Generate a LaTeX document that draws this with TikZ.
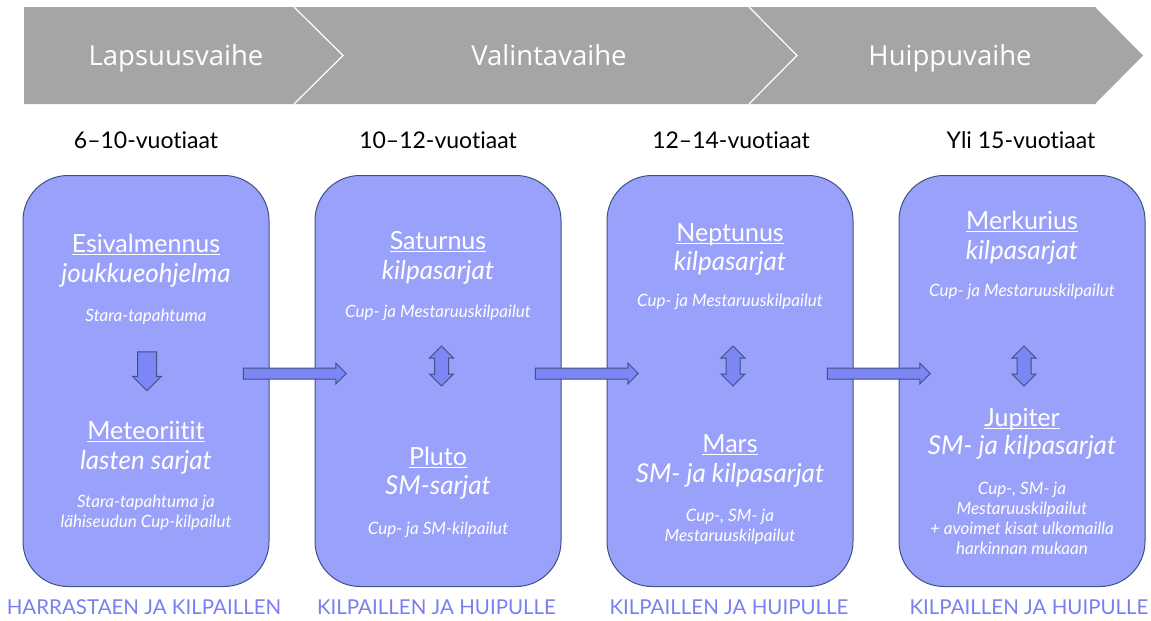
\documentclass[tikz,border=0pt]{standalone}
\usepackage{fontspec}
\setmainfont{Lato}[Ligatures=NoCommon]
\newfontfamily\chevfont{Open Sans}
\usepackage{tikz}
\usetikzlibrary{shapes.arrows,calc}
\definecolor{chevgray}{RGB}{165,165,165}
\definecolor{boxfill}{RGB}{154,161,250}
\definecolor{arrowfill}{RGB}{124,134,244}
\definecolor{edgeblue}{RGB}{62,82,130}
\definecolor{mottoblue}{RGB}{122,126,240}
\newcommand{\planetul}[1]{\setbox0=\hbox{#1}\rlap{\rule[-0.12em]{\wd0}{0.06em}}\box0}

\begin{document}
\begin{tikzpicture}[x=1pt,y=-1pt,
  stage/.style={draw=edgeblue, line width=1pt, fill=boxfill, rounded corners=45pt, minimum width=246pt, minimum height=411pt, inner sep=0pt},
  phase/.style={anchor=base, font=\chevfont\fontsize{27.5}{32}\selectfont, text=white},
  agelabel/.style={anchor=base, font=\fontsize{23}{27}\selectfont, text=black},
  motto/.style={anchor=base, font=\fontsize{20.5}{24}\selectfont, text=mottoblue},
  planet/.style={anchor=base, font=\fontsize{25}{30}\selectfont, text=white},
  series/.style={anchor=base, font=\fontsize{26}{30}\selectfont\itshape, text=white},
  contests/.style={font=\fontsize{17}{20}\selectfont\itshape, text=white, align=center},
  flowarrow/.style={single arrow, draw=edgeblue, fill=arrowfill, line width=1pt, single arrow head extend=5pt, minimum height=103pt, minimum width=20pt, inner sep=5pt},
  updown/.style={double arrow, draw=edgeblue, fill=arrowfill, line width=1pt, double arrow head extend=5pt, minimum height=40pt, minimum width=23pt, inner sep=6.5pt, shape border rotate=90}]
\useasboundingbox (0,0) rectangle (1151,621);

% phases
\fill[chevgray] (24,7) -- (1095,7) -- (1143,55.5) -- (1095,104) -- (24,104) -- cycle;
\draw[white, line width=1.2pt] (294,7) -- (343,55.5) -- (294,104);
\draw[white, line width=1.2pt] (749,7) -- (797,55.5) -- (749,104);
\node[phase] (lapsuus) at (176,65) {Lapsuusvaihe};
\node[phase] (valinta) at (549,65) {Valintavaihe};
\node[phase] (huippu) at (950,65) {Huippuvaihe};

% ages
\node[agelabel] (age1) at (146,148) {6–10-vuotiaat};
\node[agelabel] (age2) at (438,148) {10–12-vuotiaat};
\node[agelabel] (age3) at (731,148) {12–14-vuotiaat};
\node[agelabel] (age4) at (1021,148) {Yli 15-vuotiaat};

% stages
\node[stage] (box1) at (146,381) {};
\node[stage] (box2) at (438,381) {};
\node[stage] (box3) at (730,381) {};
\node[stage] (box4) at (1022,381) {};

\node[flowarrow, yshift=7.5pt] (flow12) at ($(box1.east)!0.5!(box2.west)$) {};
\node[flowarrow, yshift=7.5pt] (flow23) at ($(box2.east)!0.5!(box3.west)$) {};
\node[flowarrow, yshift=7.5pt] (flow34) at ($(box3.east)!0.5!(box4.west)$) {};

% box 1
\node[planet] (esi) at (146,252) {\planetul{Esivalmennus}};
\node[series] (esisub) at (146,282) {joukkueohjelma};
\node[contests] (esinote) at (146,317) {Stara-tapahtuma};
\node[flowarrow, minimum height=39pt, minimum width=28pt, inner sep=9pt, shape border rotate=270] (down1) at (147,366.5) {};
\node[planet] (meteor) at (146,439) {\planetul{Meteoriitit}};
\node[series] (meteorsub) at (146,469) {lasten sarjat};
\node[contests] (meteornote) at (146,513) {Stara-tapahtuma ja\\lähiseudun Cup-kilpailut};

% box 2
\node[planet] (saturn) at (438,249) {\planetul{Saturnus}};
\node[series] (saturnsub) at (438,279) {kilpasarjat};
\node[contests] (saturnnote) at (438,313) {Cup- ja Mestaruuskilpailut};
\node[updown] (ud2) at (441.5,366) {};
\node[planet] (pluto) at (438,465) {\planetul{Pluto}};
\node[series] (plutosub) at (438,494) {SM-sarjat};
\node[contests] (plutonote) at (438,530) {Cup- ja SM-kilpailut};

% box 3
\node[planet] (neptun) at (730,241) {\planetul{Neptunus}};
\node[series] (neptunsub) at (730,270) {kilpasarjat};
\node[contests] (neptunnote) at (730,302) {Cup- ja Mestaruuskilpailut};
\node[updown] (ud3) at (733,366) {};
\node[planet] (mars) at (730,452) {\planetul{Mars}};
\node[series] (marssub) at (730,482) {SM- ja kilpasarjat};
\node[contests] (marsnote) at (730,527) {Cup-, SM- ja\\Mestaruuskilpailut};

% box 4
\node[planet] (merkur) at (1022,229) {\planetul{Merkurius}};
\node[series] (merkursub) at (1022,259) {kilpasarjat};
\node[contests] (merkurnote) at (1022,292) {Cup- ja Mestaruuskilpailut};
\node[updown] (ud4) at (1024,366) {};
\node[planet] (jupiter) at (1022,426) {\planetul{Jupiter}};
\node[series] (jupitersub) at (1022,454) {SM- ja kilpasarjat};
\node[contests] (jupiternote) at (1022,518) {Cup-, SM- ja\\Mestaruuskilpailut\\+ avoimet kisat ulkomailla\\harkinnan mukaan};

% mottos
\node[motto] (motto1) at (144,614) {HARRASTAEN JA KILPAILLEN};
\node[motto] (motto2) at (436.5,614) {KILPAILLEN JA HUIPULLE};
\node[motto] (motto3) at (729,614) {KILPAILLEN JA HUIPULLE};
\node[motto] (motto4) at (1029,614) {KILPAILLEN JA HUIPULLE};
\end{tikzpicture}
\end{document}
